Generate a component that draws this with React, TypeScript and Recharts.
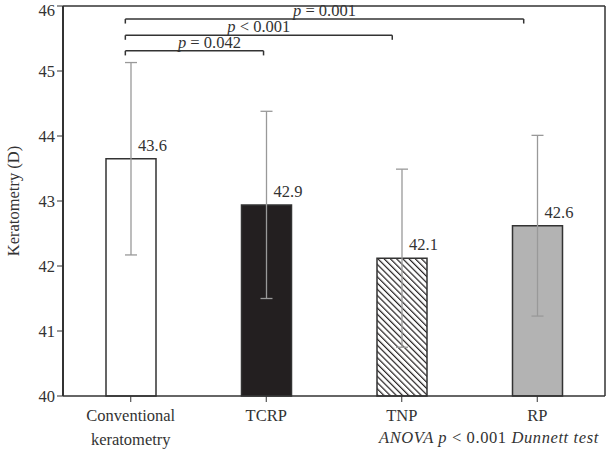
import { BarChart, Bar, XAxis, YAxis, ErrorBar, Cell, LabelList, ReferenceLine } from 'recharts'

const categories = ['Conventional keratometry', 'TCRP', 'TNP', 'RP']
const means = [43.65, 42.94, 42.12, 42.62]
const meanLabels = ['43.6', '42.9', '42.1', '42.6']
const sds = [1.48, 1.44, 1.37, 1.39]
const yTicks = [40, 41, 42, 43, 44, 45, 46]

// significance brackets: x positions on category index scale, y in D
const bracketFrom = [-0.04, -0.04, -0.04]
const bracketTo = [0.98, 1.93, 2.9]
const bracketY = [45.31, 45.55, 45.8]
const bracketOp = ['=', '<', '=']
const bracketP = ['0.042', '0.001', '0.001']

const FONT = 'Liberation Serif'
const fills = ['#ffffff', '#231f20', 'url(#hatch)', '#b3b3b3']

const data = categories.map((name, i) => ({
  idx: i,
  name,
  value: means[i],
  err: sds[i],
  label: meanLabels[i],
}))

const XTick = ({ x, y, payload }: any) => {
  const words = categories[payload.value] === 'Conventional keratometry'
    ? ['Conventional', 'keratometry']
    : [categories[payload.value]]
  return (
    <text x={x} y={y + 17} textAnchor="middle" fontFamily={FONT} fontSize={16.5} fill="#333">
      {words.map((w, i) => (
        <tspan key={i} x={x} dy={i === 0 ? 0 : 24}>{w}</tspan>
      ))}
    </text>
  )
}

const ValueLabel = ({ x, y, width, value }: any) => (
  <text x={x + width / 2 + 7} y={y - 8} fontFamily={FONT} fontSize={16.5} fill="#333">
    {value}
  </text>
)

const bracketLabel = (i: number) => (props: any) => {
  const vb = props.viewBox || {}
  const cx = vb.x + (vb.width || 0) / 2 + (i === 0 ? 15 : 0)
  return (
    <text x={cx} y={vb.y - 3} textAnchor="middle" fontFamily={FONT} fontSize={16.5} fill="#333">
      <tspan fontStyle="italic">p</tspan>
      <tspan> {bracketOp[i]} {bracketP[i]}</tspan>
    </text>
  )
}

export default function App() {
  return (
    <div style={{ position: 'absolute', left: 0, top: 0, width: 607, height: 452, background: '#fff' }}>
      <BarChart
        width={607}
        height={452}
        data={data}
        margin={{ top: 6, right: 2, bottom: 0, left: 0 }}
      >
        <defs>
          <pattern id="hatch" width="4.4" height="4.4" patternUnits="userSpaceOnUse" patternTransform="rotate(-45)">
            <rect width="4.4" height="4.4" fill="#fff" />
            <line x1="0" y1="0" x2="0" y2="4.4" stroke="#231f20" strokeWidth="2.4" />
          </pattern>
        </defs>
        <XAxis
          dataKey="idx"
          type="number"
          domain={[-0.5, 3.5]}
          ticks={[0, 1, 2, 3]}
          tick={<XTick />}
          tickSize={6}
          stroke="#333"
          axisLine={{ stroke: '#333', strokeWidth: 1.5 }}
          interval={0}
          height={56}
        />
        <YAxis
          domain={[40, 46]}
          ticks={yTicks}
          width={63}
          tickSize={6}
          stroke="#333"
          axisLine={{ stroke: '#333', strokeWidth: 2 }}
          tick={{ fontFamily: FONT, fontSize: 16.5, fill: '#333' }}
          label={{
            value: 'Keratometry (D)',
            angle: -90,
            position: 'insideLeft',
            offset: 13,
            style: { fontFamily: FONT, fontSize: 16.5, fill: '#333', textAnchor: 'middle' },
          }}
        />
        <ReferenceLine y={46} stroke="#333" strokeWidth={1.5} />
        <ReferenceLine x={3.5} stroke="#333" strokeWidth={1.5} />
        <Bar dataKey="value" barSize={50} stroke="#333" strokeWidth={1.5} isAnimationActive={false}>
          {data.map((d, i) => (
            <Cell key={d.name} fill={fills[i]} />
          ))}
          <ErrorBar dataKey="err" direction="y" width={6} stroke="#999" strokeWidth={1.3} />
          <LabelList dataKey="label" content={<ValueLabel />} />
        </Bar>
        {bracketY.map((y, i) => (
          <ReferenceLine
            key={'b' + i}
            segment={[{ x: bracketFrom[i], y }, { x: bracketTo[i], y }]}
            stroke="#333"
            strokeWidth={1.5}
            label={bracketLabel(i)}
          />
        ))}
        {bracketY.map((y, i) => (
          <ReferenceLine
            key={'l' + i}
            segment={[{ x: bracketFrom[i], y }, { x: bracketFrom[i], y: y - 0.07 }]}
            stroke="#333"
            strokeWidth={1.5}
          />
        ))}
        {bracketY.map((y, i) => (
          <ReferenceLine
            key={'r' + i}
            segment={[{ x: bracketTo[i], y }, { x: bracketTo[i], y: y - 0.07 }]}
            stroke="#333"
            strokeWidth={1.5}
          />
        ))}
      </BarChart>
      <div
        style={{
          position: 'absolute',
          left: 379,
          top: 428,
          fontFamily: FONT,
          fontSize: 16.5,
          letterSpacing: 0.6,
          color: '#333',
          whiteSpace: 'nowrap',
        }}
      >
        <i>ANOVA p</i> &lt; 0.001 <i>Dunnett test</i>
      </div>
    </div>
  )
}
